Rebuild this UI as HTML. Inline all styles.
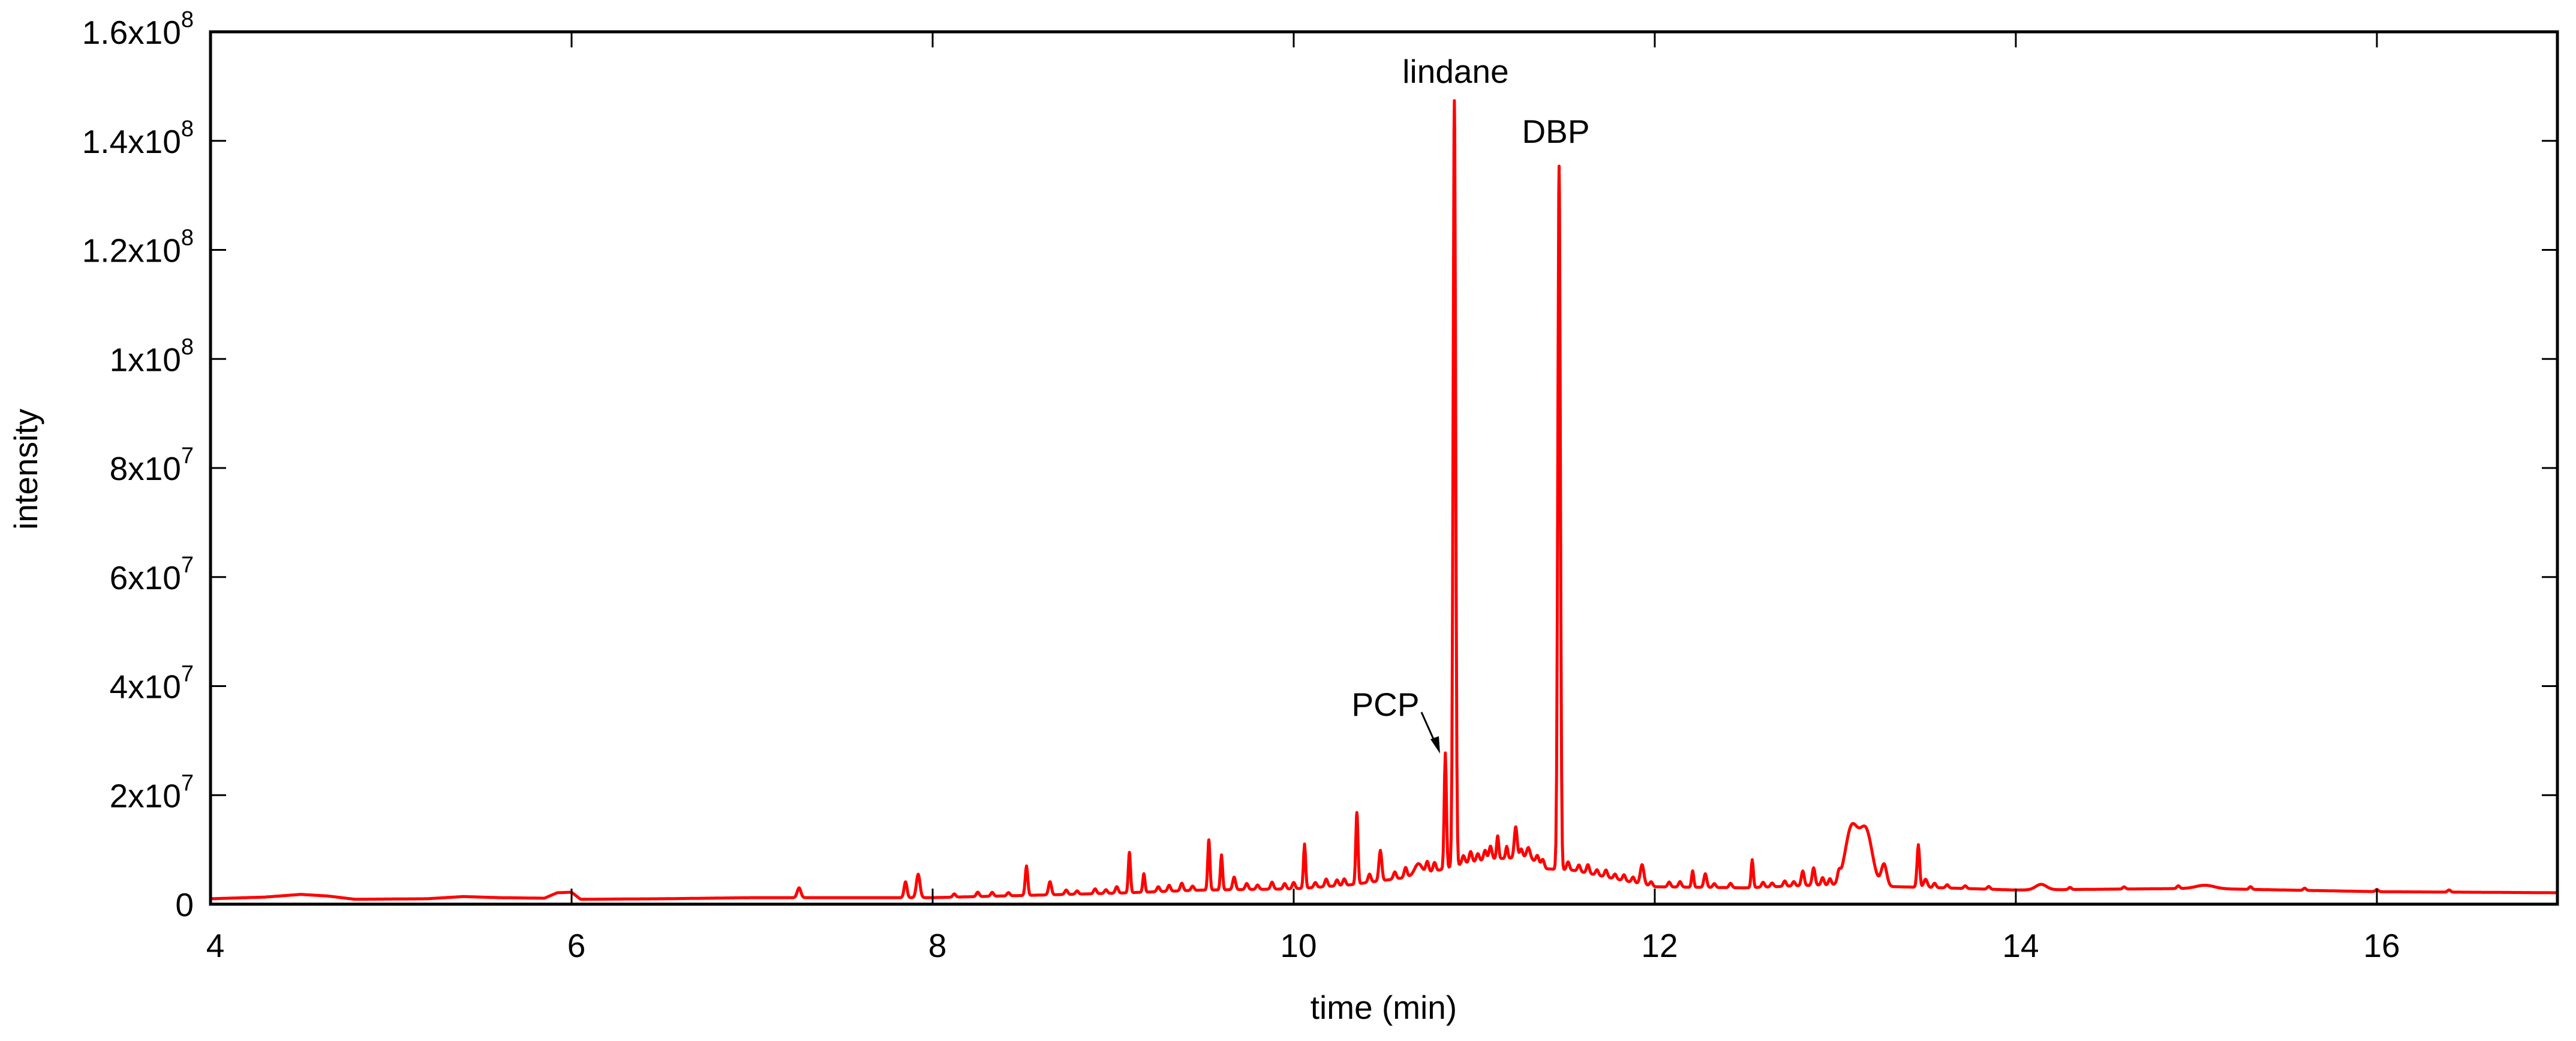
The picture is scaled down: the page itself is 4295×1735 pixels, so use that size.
<!DOCTYPE html>
<html><head><meta charset="utf-8"><style>
html,body{margin:0;padding:0;background:#fff;}
svg{display:block;font-family:"Liberation Sans",Arial,sans-serif;}
</style></head><body>
<svg id="chart" width="4295" height="1735" viewBox="0 0 4295 1735" xmlns="http://www.w3.org/2000/svg">
<rect width="4295" height="1735" fill="#fff"/>
<g id="plot"></g>
<g id="axes"></g>
<text x="2307" y="1698" font-size="55" text-anchor="middle">time (min)</text>
<text transform="translate(62,782) rotate(-90)" font-size="55" text-anchor="middle">intensity</text>
<text x="2427" y="138" font-size="55" text-anchor="middle">lindane</text>
<text x="2594" y="238" font-size="55" text-anchor="middle">DBP</text>
<text x="2310" y="1193" font-size="55" text-anchor="middle">PCP</text>
<line x1="2370" y1="1187" x2="2396" y2="1245" stroke="#000" stroke-width="3"/>
<polygon points="2401,1256 2385,1232 2399,1227" fill="#000"/>
</svg>
<script>
// ---- data (intensity in units of 1e6) ----
const baseTimes = [4,4.3,4.5,4.65,4.8,5.2,5.4,5.6,5.85,5.92,6.0,6.05,6.5,7.0,7.5,8.0,8.5,9.0,9.5,10.0,10.3,10.6,10.8,10.95,11.1,11.3,11.4,11.55,11.8,12.0,12.5,12.9,13.35,13.6,14.0,15.0,16.0,17];
const baseValues = [1.0,1.3,1.8,1.5,0.9,1.0,1.4,1.2,1.1,2.1,2.2,0.9,1.0,1.2,1.2,1.2,1.6,2.0,2.6,2.8,3.5,4.8,6.2,7.5,8.3,8.6,6.5,6.2,4.5,3.2,3.0,3.5,3.2,3.0,2.6,2.9,2.3,2.1];
const peakTimes = [7.26,7.85,7.92,8.52,8.65,9.09,9.17,9.53,9.60,9.67,10.06,10.35,10.48,10.69,10.84,10.89,11.13,11.18,11.23,11.30,11.47,11.93,12.21,12.28,12.54,12.82,12.88,13.09,13.17,13.27,13.46,13.50,14.14,15.05];
const peakHeights = [1.8,2.9,4.3,5.4,2.4,7.4,3.4,9.2,6.4,2.3,8.1,13.1,5.6,2.0,21.2,140.4,4.2,2.2,5.7,1.8,129,3.6,3.0,2.5,5.1,2.7,3.2,10.5,10.0,4.0,7.8,1.5,1.0,0.6];
const peakWidths = [0.01,0.008,0.01,0.007,0.008,0.006,0.006,0.006,0.006,0.008,0.006,0.006,0.008,0.02,0.006,0.007,0.006,0.006,0.008,0.01,0.007,0.01,0.006,0.008,0.006,0.008,0.008,0.035,0.035,0.015,0.007,0.01,0.03,0.05];
// small noise peaks
const noiseTimes = [8.12,8.25,8.33,8.42,8.74,8.80,8.90,8.96,9.02,9.25,9.31,9.38,9.44,9.74,9.80,9.88,9.95,10.00,10.12,10.18,10.24,10.28,10.42,10.56,10.62,10.74,10.78,10.94,10.98,11.02,11.06,11.09,11.26,11.35,11.38,11.52,11.58,11.63,11.68,11.73,11.78,11.83,11.88,11.98,12.08,12.14,12.33,12.42,12.60,12.65,12.72,12.77,12.93,12.97,13.02,13.55,13.62,13.72,13.85,14.3,14.6,14.9,15.3,15.6,16.0,16.4];
const noiseHeights = [0.6,0.8,0.7,0.6,0.8,0.6,0.9,0.7,1.2,0.9,1.1,1.4,0.8,1.1,0.8,1.3,1.0,1.2,0.9,1.4,1.1,1.2,1.5,1.3,1.8,2.0,1.6,1.5,2.0,1.4,1.8,2.4,1.6,1.4,1.3,1.5,1.2,1.6,1.0,1.3,0.9,1.1,1.0,0.8,0.9,1.0,0.7,0.8,0.9,0.7,1.0,0.8,1.4,1.2,1.6,0.8,0.6,0.5,0.5,0.4,0.4,0.5,0.5,0.4,0.4,0.4];

const xTicks = [4,6,8,10,12,14,16];
const yTicks = [0,0.2,0.4,0.6,0.8,1.0,1.2,1.4,1.6];
const yTickLabels = ["0","2x10|7","4x10|7","6x10|7","8x10|7","1x10|8","1.2x10|8","1.4x10|8","1.6x10|8"];

// ---- scales ----
const L=351,R=4264,T=53,B=1507;
const xMin=4,xMax=17,yMax=1.6e8;
const xs=t=>L+(t-xMin)/(xMax-xMin)*(R-L);
const ys=v=>B-v/yMax*(B-T);
const NS="http://www.w3.org/2000/svg";

function baseline(t){
  for(let i=0;i<baseTimes.length-1;i++){
    if(t>=baseTimes[i]&&t<=baseTimes[i+1]){
      const f=(t-baseTimes[i])/(baseTimes[i+1]-baseTimes[i]);
      return baseValues[i]+f*(baseValues[i+1]-baseValues[i]);
    }
  }
  return baseValues[baseValues.length-1];
}
function signal(t){
  let v=baseline(t);
  for(let i=0;i<peakTimes.length;i++){
    const d=(t-peakTimes[i])/peakWidths[i];
    if(Math.abs(d)<6) v+=peakHeights[i]*Math.exp(-0.5*d*d);
  }
  for(let i=0;i<noiseTimes.length;i++){
    const d=(t-noiseTimes[i])/0.008;
    if(Math.abs(d)<6) v+=noiseHeights[i]*Math.exp(-0.5*d*d);
  }
  return v*1e6;
}
let ts=[];
for(let t=xMin;t<=xMax+1e-9;t+=0.004) ts.push(+t.toFixed(4));
ts=ts.concat(peakTimes).concat(noiseTimes).sort((a,b)=>a-b);
let d="";
ts.forEach((t,i)=>{d+=(i?"L":"M")+xs(t).toFixed(1)+","+ys(signal(t)).toFixed(1);});
const plot=document.getElementById('plot');
const path=document.createElementNS(NS,'path');


path.setAttribute('d',d);path.setAttribute('fill','none');path.setAttribute('stroke','#ff0000');
path.setAttribute('stroke-width','5');path.setAttribute('stroke-linejoin','round');
plot.appendChild(path);

// ---- axes ----
const axes=document.getElementById('axes');
const frame=document.createElementNS(NS,'rect');


frame.setAttribute('x',L);frame.setAttribute('y',T);frame.setAttribute('width',R-L);frame.setAttribute('height',B-T);
frame.setAttribute('fill','none');frame.setAttribute('stroke','#000');frame.setAttribute('stroke-width','5');
axes.appendChild(frame);
function line(x1,y1,x2,y2,name){
  const l=document.createElementNS(NS,'line');
  
  
  l.setAttribute('x1',x1);l.setAttribute('y1',y1);l.setAttribute('x2',x2);l.setAttribute('y2',y2);
  l.setAttribute('stroke','#000');l.setAttribute('stroke-width','3');
  axes.appendChild(l);
}
xTicks.forEach(t=>{
  const x=xs(t);
  line(x,B,x,B-26,'x-tick');line(x,T,x,T+26,'x-tick-top');
  const tx=document.createElementNS(NS,'text');
  
  
  tx.setAttribute('x',x+8);tx.setAttribute('y',1595);tx.setAttribute('font-size','55');tx.setAttribute('text-anchor','middle');
  tx.textContent=t;axes.appendChild(tx);
});
yTicks.forEach((v,i)=>{
  const y=ys(v*1e8);
  line(L,y,L+26,y,'y-tick');line(R,y,R-26,y,'y-tick-right');
  const tx=document.createElementNS(NS,'text');
  
  
  tx.setAttribute('y',y+20);tx.setAttribute('font-size','55');tx.setAttribute('text-anchor','end');
  tx.setAttribute('x',L-28);
  const parts=yTickLabels[i].split('|');
  if(parts.length===1){tx.textContent=parts[0];}
  else{
    const a=document.createElementNS(NS,'tspan');a.textContent=parts[0];tx.appendChild(a);
    const s=document.createElementNS(NS,'tspan');s.setAttribute('font-size','38');s.setAttribute('dy','-28');s.textContent=parts[1];tx.appendChild(s);
  }
  axes.appendChild(tx);
});
</script>
</body></html>
